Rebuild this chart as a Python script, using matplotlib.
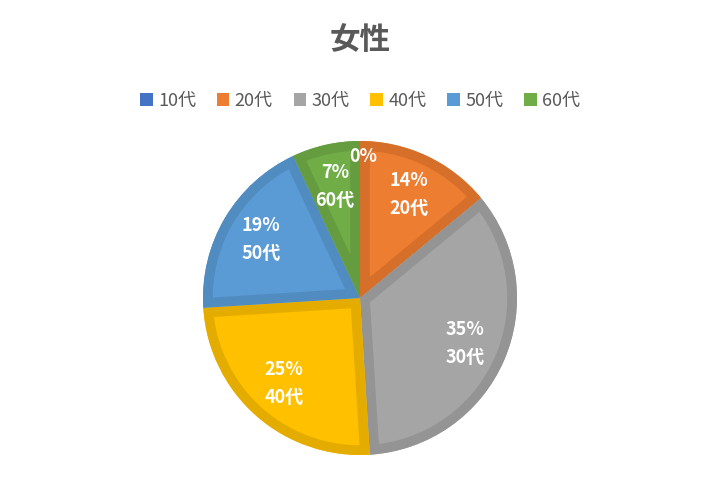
import matplotlib
matplotlib.use("Agg")
import matplotlib.pyplot as plt
import numpy as np
from matplotlib.patches import Patch, Wedge

plt.rcParams["font.family"] = ["Noto Sans CJK JP", "DejaVu Sans"]

# data
labels = ["10代", "20代", "30代", "40代", "50代", "60代"]
values = [0, 14, 35, 25, 19, 7]
colors = ["#4472C4", "#ED7D31", "#A5A5A5", "#FFC000", "#5B9BD5", "#70AD47"]
edge_colors = ["#3E67B1", "#D56F2A", "#949494", "#E5AC00", "#518CC0", "#659C3F"]


def run():
    fig = plt.figure(figsize=(7.2, 4.8), dpi=100)
    ax = fig.add_axes([360 / 720 - 157 / 720, 1 - 455 / 480, 314 / 720, 314 / 480])

    wedges, texts = ax.pie(values, colors=colors, startangle=90, counterclock=False,
                           wedgeprops=dict(linewidth=0))
    ax.set_xlim(-1, 1)
    ax.set_ylim(-1, 1)
    ax.set_aspect("equal")

    # thick inner border of a darker shade, clipped to a copy of the slice
    for w, ec in zip(wedges, edge_colors):
        if w.theta2 - w.theta1 <= 0:
            continue
        clip = Wedge(w.center, w.r, w.theta1, w.theta2, transform=ax.transData)
        border = Wedge(w.center, w.r, w.theta1, w.theta2, facecolor="none",
                       edgecolor=ec, linewidth=14, joinstyle="miter")
        ax.add_patch(border)
        border.set_clip_path(clip)

    # data labels
    total = sum(values)
    angle = 90.0
    for i, v in enumerate(values):
        sweep = 360.0 * v / total
        mid = np.deg2rad(angle - sweep / 2)
        angle -= sweep
        if v == 0:
            ax.text(0.02, 0.9, "0%", ha="center", va="center", color="white",
                    fontsize=13, fontweight="bold")
            continue
        r = 0.73
        ax.text(r * np.cos(mid), r * np.sin(mid), f"{v}%\n{labels[i]}",
                ha="center", va="center", color="white", fontsize=13,
                fontweight="bold", linespacing=1.6)

    fig.text(0.5, 1 - 40 / 480, "女性", ha="center", va="center", fontsize=22,
             fontweight="bold", color="#595959")

    handles = [Patch(facecolor=c, edgecolor="none") for c in colors]
    fig.legend(handles, labels, loc="center", bbox_to_anchor=(0.5, 1 - 101 / 480),
               ncol=6, frameon=False, fontsize=13, labelcolor="#595959",
               handlelength=0.7, handleheight=0.7, handletextpad=0.3,
               columnspacing=1.15)

    fig.savefig("out.png", dpi=100)


run()
